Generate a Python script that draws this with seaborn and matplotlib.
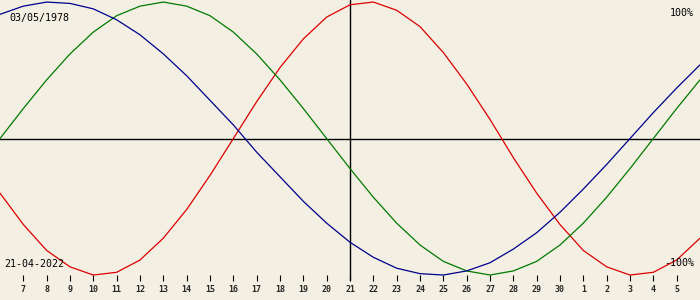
import matplotlib
matplotlib.use("Agg")
import matplotlib.pyplot as plt
import seaborn as sns
import pandas as pd

# Biorhythm chart: birth date 03/05/1978, reference date 21-04-2022
birth_label = "03/05/1978"
date_label = "21-04-2022"

# day offsets relative to the reference date (06 Apr .. 06 May)
offsets = list(range(-15, 16))

# values in percent, one per day
physical = [-40, -63, -82, -94, -100, -98, -89, -73, -52, -27, 0, 27, 52, 73, 89,
            98, 100, 94, 82, 63, 40, 14, -14, -40, -63, -82, -94, -100, -98, -89, -73]
emotional = [0, 22, 43, 62, 78, 90, 97, 100, 97, 90, 78, 62, 43, 22, 0,
             -22, -43, -62, -78, -90, -97, -100, -97, -90, -78, -62, -43, -22, 0, 22, 43]
intellectual = [91, 97, 100, 99, 95, 87, 76, 62, 46, 28, 10, -10, -28, -46, -62,
                -76, -87, -95, -99, -100, -97, -91, -81, -69, -54, -37, -19, 0, 19, 37, 54]

tick_offsets = list(range(-14, 15))
tick_labels = ["7", "8", "9", "10", "11", "12", "13", "14", "15", "16", "17", "18", "19",
               "20", "21", "22", "23", "24", "25", "26", "27", "28", "29", "30",
               "1", "2", "3", "4", "5"]

series_names = ["physical", "emotional", "intellectual"]
series_colors = ["#dd0000", "#007a00", "#00008c"]

df = pd.concat([
    pd.DataFrame({"offset": offsets, "value": physical, "cycle": "physical"}),
    pd.DataFrame({"offset": offsets, "value": emotional, "cycle": "emotional"}),
    pd.DataFrame({"offset": offsets, "value": intellectual, "cycle": "intellectual"}),
])

bg = "#f3efe3"
sns.set_style("white")
plt.rcParams["font.family"] = ["DejaVu Sans Mono", "DejaVu Sans"]

fig = plt.figure(figsize=(7, 3), dpi=100, facecolor=bg)
ax = fig.add_axes([0, 0, 1, 1])
ax.set_facecolor(bg)

# axes lines
ax.axhline(0, color="black", lw=1.0)
ax.axvline(0, ymin=20 / 300, ymax=1, color="black", lw=1.0)

sns.lineplot(data=df, x="offset", y="value", hue="cycle", hue_order=series_names,
             palette=dict(zip(series_names, series_colors)), estimator=None,
             sort=False, lw=0.9, legend=False, ax=ax)

ax.set_xlim(-15, 15)
ax.set_ylim(-118.3, 101.5)

for s in ["top", "right", "left"]:
    ax.spines[s].set_visible(False)
ax.spines["bottom"].set_position(("data", -104.4))
ax.spines["bottom"].set_visible(False)
ax.set_yticks([])
ax.set_xticks(tick_offsets)
ax.set_xticklabels(tick_labels, fontsize=6, fontweight="bold")
ax.tick_params(axis="x", bottom=True, direction="in", length=4.3, width=0.8,
               color="black", pad=2.5)
ax.set_xlabel("")
ax.set_ylabel("")

ax.text(9 / 700, 1 - 21 / 300, birth_label, transform=ax.transAxes, fontsize=7.2,
        ha="left", va="baseline", color="black")
ax.text(694 / 700, 1 - 16 / 300, "100%", transform=ax.transAxes, fontsize=7.2,
        ha="right", va="baseline", color="black")
ax.text(4 / 700, 1 - 267 / 300, date_label, transform=ax.transAxes, fontsize=7.2,
        ha="left", va="baseline", color="black")
ax.text(694 / 700, 1 - 266 / 300, "-100%", transform=ax.transAxes, fontsize=7.2,
        ha="right", va="baseline", color="black")

fig.savefig("out.png", dpi=100, facecolor=bg)
